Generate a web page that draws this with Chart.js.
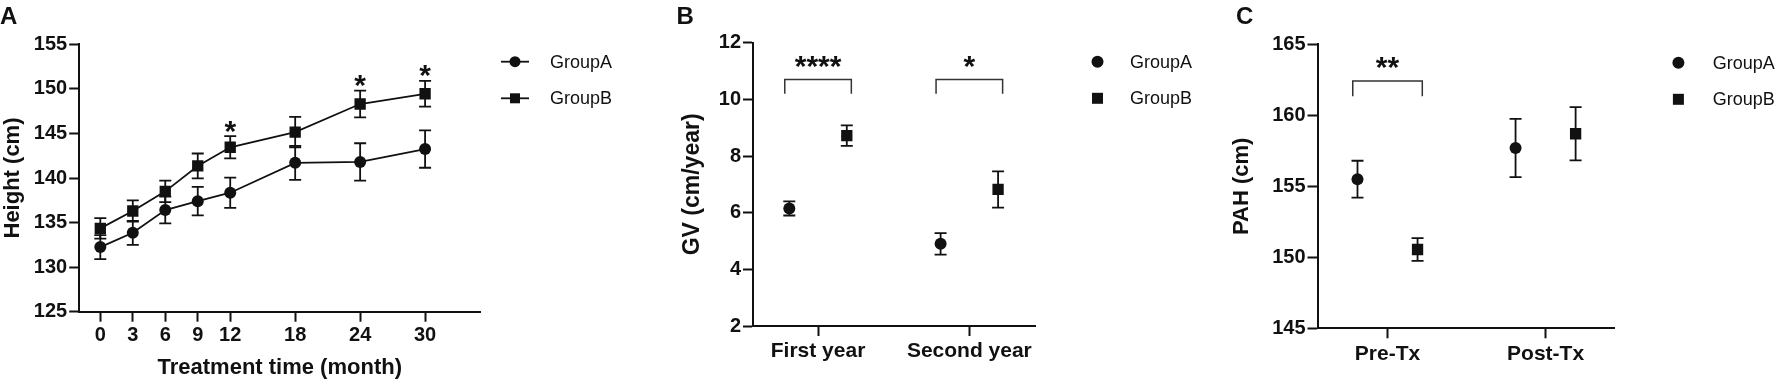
<!DOCTYPE html>
<html>
<head>
<meta charset="utf-8">
<script src="https://cdn.jsdelivr.net/npm/chart.js@4.4.0/dist/chart.umd.min.js"></script>
<style>
  body { margin: 0; background: #fff; }
  #wrap { position: relative; width: 1775px; height: 386px; overflow: hidden; }
  canvas { position: absolute; top: 0; }
</style>
</head>
<body>
<div id="wrap">
  <canvas id="chartA" width="650" height="386" style="left:0"></canvas>
  <canvas id="chartB" width="650" height="386" style="left:600px"></canvas>
  <canvas id="chartC" width="575" height="386" style="left:1200px"></canvas>
</div>
<script>
// ---- data ----
// Panel A: height over treatment time
const months = [0, 3, 6, 9, 12, 18, 24, 30];
const heightA = [132.25, 133.85, 136.4, 137.4, 138.35, 141.7, 141.8, 143.25];
const heightAErr = [1.35, 1.35, 1.5, 1.6, 1.7, 1.9, 2.1, 2.1];
const heightB = [134.35, 136.3, 138.5, 141.35, 143.45, 145.15, 148.3, 149.45];
const heightBErr = [1.15, 1.2, 1.2, 1.4, 1.25, 1.7, 1.5, 1.45];
const heightSigMonths = [12, 24, 30];

// Panel B: growth velocity
const gvCats = ['First year', 'Second year'];
const gvA = [6.15, 4.9];
const gvAErr = [0.25, 0.38];
const gvB = [8.72, 6.82];
const gvBErr = [0.36, 0.64];
const gvSig = ['****', '*'];
const gvBracket = [10.7, 10.2];

// Panel C: predicted adult height
const pahCats = ['Pre-Tx', 'Post-Tx'];
const pahA = [155.5, 157.7];
const pahAErr = [1.3, 2.05];
const pahB = [150.55, 158.7];
const pahBErr = [0.8, 1.87];
const pahSig = ['**', ''];
const pahBracket = [162.42, 161.35];

const FONT = "'Liberation Sans', Arial, Helvetica, sans-serif";
const INK = '#111';
const DODGE = 0.19;      // group offset inside a category
const BRACKET_HALF = 0.22;

// ---- plugins ----
function drawMarker(ctx, style, x, y, r) {
  ctx.beginPath();
  if (style === 'rect') {
    ctx.rect(x - r, y - r, 2 * r, 2 * r);
  } else {
    ctx.arc(x, y, r, 0, Math.PI * 2);
  }
  ctx.fill();
}

function drawStar(ctx, text, x, cy, size) {
  ctx.font = 'bold ' + size + 'px ' + FONT;
  ctx.textAlign = 'center';
  ctx.textBaseline = 'alphabetic';
  ctx.fillText(text, x, cy + size * 0.58);
}

const errorBars = {
  id: 'errorBars',
  beforeDatasetsDraw(chart) {
    const ctx = chart.ctx, ys = chart.scales.y;
    chart.data.datasets.forEach((ds, di) => {
      if (!ds.errors) return;
      const meta = chart.getDatasetMeta(di);
      ctx.save();
      ctx.strokeStyle = INK;
      ctx.lineWidth = 1.8;
      meta.data.forEach((pt, i) => {
        const v = ds.data[i].y, e = ds.errors[i];
        const t = ys.getPixelForValue(v + e), b = ys.getPixelForValue(v - e);
        ctx.beginPath();
        ctx.moveTo(pt.x, t); ctx.lineTo(pt.x, b);
        ctx.moveTo(pt.x - 6, t); ctx.lineTo(pt.x + 6, t);
        ctx.moveTo(pt.x - 6, b); ctx.lineTo(pt.x + 6, b);
        ctx.stroke();
      });
      ctx.restore();
    });
  }
};

const decor = {
  id: 'decor',
  afterDraw(chart, args, opts) {
    const ctx = chart.ctx, xs = chart.scales.x, ys = chart.scales.y;
    ctx.save();
    ctx.fillStyle = INK;
    ctx.strokeStyle = INK;

    // panel letter
    ctx.font = 'bold 24px ' + FONT;
    ctx.textAlign = 'left';
    ctx.textBaseline = 'alphabetic';
    ctx.fillText(opts.letter, opts.letterX, 23.5);

    // legend
    const lg = opts.legend;
    chart.data.datasets.forEach((ds, k) => {
      const yy = lg.y + k * lg.dy;
      if (lg.line) {
        ctx.lineWidth = 1.8;
        ctx.beginPath();
        ctx.moveTo(lg.markerX - 14, yy); ctx.lineTo(lg.markerX + 14, yy);
        ctx.stroke();
      }
      drawMarker(ctx, ds.pointStyle, lg.markerX, yy, ds.pointStyle === 'rect' ? lg.size - 0.5 : lg.size);
      ctx.font = '18px ' + FONT;
      ctx.textAlign = 'left';
      ctx.textBaseline = 'middle';
      ctx.fillText(ds.label, lg.textX, yy + 1);
    });

    // significance stars over single points
    (opts.stars || []).forEach(s => {
      const x = xs.getPixelForValue(s.x);
      const y = ys.getPixelForValue(s.y) - 13;
      drawStar(ctx, '*', x, y, 30);
    });

    // brackets
    (opts.brackets || []).forEach(b => {
      if (!b.text) return;
      const x1 = xs.getPixelForValue(b.from), x2 = xs.getPixelForValue(b.to);
      const yt = ys.getPixelForValue(b.level), yb = ys.getPixelForValue(b.drop);
      ctx.lineWidth = 1.5;
      ctx.strokeStyle = '#333';
      ctx.beginPath();
      ctx.moveTo(x1, yb); ctx.lineTo(x1, yt); ctx.lineTo(x2, yt); ctx.lineTo(x2, yb);
      ctx.stroke();
      drawStar(ctx, b.text, (x1 + x2) / 2, yt - 21, 30);
    });
    ctx.restore();
  }
};

Chart.register(errorBars, decor);
Chart.defaults.font.family = FONT;
Chart.defaults.color = INK;

// ---- helpers ----
function axisStyle(extra) {
  return Object.assign({
    border: { display: true, color: INK, width: 2 },
    grid: { drawOnChartArea: false, drawTicks: true, tickLength: 10, tickWidth: 2, tickColor: INK },
  }, extra);
}

function groupDataset(label, style, values, errors, xs) {
  return {
    label: label,
    data: values.map((v, i) => ({ x: xs[i], y: v })),
    errors: errors,
    pointStyle: style,
    pointRadius: style === 'rect' ? 8 : 6,
    pointBackgroundColor: INK,
    pointBorderWidth: 0,
    borderColor: INK,
    borderWidth: 1.8,
    backgroundColor: INK
  };
}

function baseOptions(pad) {
  return {
    responsive: false,
    animation: false,
    events: [],
    layout: { padding: pad }
  };
}

// ---- Panel A ----
new Chart(document.getElementById('chartA'), {
  type: 'line',
  data: {
    datasets: [
      Object.assign(groupDataset('GroupA', 'circle', heightA, heightAErr, months), { showLine: true, fill: false }),
      Object.assign(groupDataset('GroupB', 'rect', heightB, heightBErr, months), { showLine: true, fill: false })
    ]
  },
  options: Object.assign(baseOptions({ left: 0, top: 44.3, right: 169.7, bottom: 0 }), {
    scales: {
      x: axisStyle({
        type: 'linear', min: -1.95, max: 35.1,
        afterBuildTicks: s => { s.ticks = months.map(m => ({ value: m })); },
        afterFit: s => { s.height = 74.3; },
        ticks: { font: { size: 20, weight: 'bold' }, padding: 2, maxRotation: 0 },
        title: { display: true, text: 'Treatment time (month)', font: { size: 22, weight: 'bold' }, padding: { top: 0, bottom: 5 } }
      }),
      y: axisStyle({
        min: 125, max: 155,
        afterFit: s => { s.width = 79.2; },
        ticks: { stepSize: 5, font: { size: 20, weight: 'bold' }, padding: 2 },
        title: { display: true, text: 'Height (cm)', font: { size: 22, weight: 'bold' }, padding: { top: 0, bottom: 0 } }
      })
    },
    plugins: {
      legend: { display: false }, tooltip: { enabled: false },
      decor: {
        letter: 'A', letterX: 0,
        legend: { markerX: 515, textX: 550, y: 61.7, dy: 36.6, line: true, size: 5.5 },
        stars: heightSigMonths.map(m => {
          const i = months.indexOf(m);
          return { x: m, y: heightB[i] + heightBErr[i] };
        })
      }
    }
  })
});

// ---- Panel B ----
new Chart(document.getElementById('chartB'), {
  type: 'scatter',
  data: {
    datasets: [
      groupDataset('GroupA', 'circle', gvA, gvAErr, gvCats.map((c, i) => i + 1 - DODGE)),
      groupDataset('GroupB', 'rect', gvB, gvBErr, gvCats.map((c, i) => i + 1 + DODGE))
    ]
  },
  options: Object.assign(baseOptions({ left: 78.5, top: 42.7, right: 215, bottom: 0 }), {
    scales: {
      x: axisStyle({
        type: 'linear', min: 0.57, max: 2.434,
        afterBuildTicks: s => { s.ticks = gvCats.map((c, i) => ({ value: i + 1 })); },
        afterFit: s => { s.height = 60; },
        ticks: { font: { size: 21, weight: 'bold' }, padding: 3, maxRotation: 0, callback: v => gvCats[v - 1] }
      }),
      y: axisStyle({
        min: 2, max: 12,
        afterFit: s => { s.width = 74.5; },
        ticks: { stepSize: 2, font: { size: 20, weight: 'bold' }, padding: 2 },
        title: { display: true, text: 'GV (cm/year)', font: { size: 23, weight: 'bold' }, padding: { top: 0, bottom: 0 } }
      })
    },
    plugins: {
      legend: { display: false }, tooltip: { enabled: false },
      decor: {
        letter: 'B', letterX: 76.5,
        legend: { markerX: 497.5, textX: 530, y: 61.7, dy: 36.6, line: false, size: 6 },
        brackets: gvSig.map((t, i) => ({ from: i + 1 - BRACKET_HALF, to: i + 1 + BRACKET_HALF, level: gvBracket[0], drop: gvBracket[1], text: t }))
      }
    }
  })
});

// ---- Panel C ----
new Chart(document.getElementById('chartC'), {
  type: 'scatter',
  data: {
    datasets: [
      groupDataset('GroupA', 'circle', pahA, pahAErr, pahCats.map((c, i) => i + 1 - DODGE)),
      groupDataset('GroupB', 'rect', pahB, pahBErr, pahCats.map((c, i) => i + 1 + DODGE))
    ]
  },
  options: Object.assign(baseOptions({ left: 28.8, top: 44.3, right: 160.5, bottom: 0 }), {
    scales: {
      x: axisStyle({
        type: 'linear', min: 0.557, max: 2.436,
        afterBuildTicks: s => { s.ticks = pahCats.map((c, i) => ({ value: i + 1 })); },
        afterFit: s => { s.height = 57.7; },
        ticks: { font: { size: 21, weight: 'bold' }, padding: 3, maxRotation: 0, callback: v => pahCats[v - 1] }
      }),
      y: axisStyle({
        min: 145, max: 165,
        afterFit: s => { s.width = 88.7; },
        ticks: { stepSize: 5, font: { size: 20, weight: 'bold' }, padding: 2 },
        title: { display: true, text: 'PAH (cm)', font: { size: 22, weight: 'bold' }, padding: { top: 0, bottom: 0 } }
      })
    },
    plugins: {
      legend: { display: false }, tooltip: { enabled: false },
      decor: {
        letter: 'C', letterX: 36,
        legend: { markerX: 478.4, textX: 512.8, y: 62.7, dy: 36.6, line: false, size: 6 },
        brackets: pahSig.map((t, i) => ({ from: i + 1 - BRACKET_HALF, to: i + 1 + BRACKET_HALF, level: pahBracket[0], drop: pahBracket[1], text: t }))
      }
    }
  })
});
</script>
</body>
</html>
